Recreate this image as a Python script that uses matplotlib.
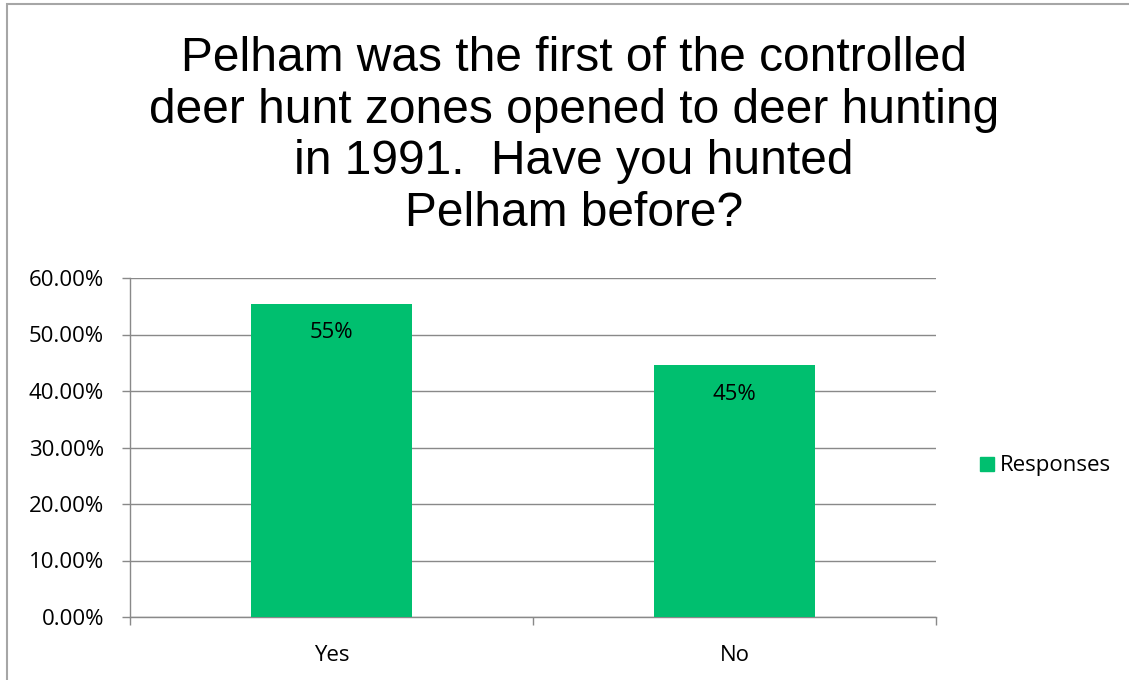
import matplotlib
matplotlib.use("Agg")
import matplotlib.pyplot as plt
from matplotlib.patches import Rectangle
from matplotlib.lines import Line2D

categories = ["Yes", "No"]
values = [55.45, 44.55]
value_labels = ["55%", "45%"]
y_ticks = [0, 10, 20, 30, 40, 50, 60]
y_tick_labels = ["0.00%", "10.00%", "20.00%", "30.00%", "40.00%", "50.00%", "60.00%"]
series_name = "Responses"
title = ("Pelham was the first of the controlled\n"
         "deer hunt zones opened to deer hunting\n"
         "in 1991.  Have you hunted\n"
         "Pelham before?")

W, H, DPI = 1129, 680, 100
fig = plt.figure(figsize=(W / DPI, H / DPI), dpi=DPI)
fig.patch.set_facecolor("white")

bar_color = "#00BF6F"
grid_color = "#898989"
label_font = ["Open Sans", "DejaVu Sans"]
fs = 16

ax = fig.add_axes([130 / W, 1 - 617 / H, (936 - 130) / W, (617 - 278) / H])
x = list(range(len(categories)))
ax.bar(x, values, width=0.4, color=bar_color, zorder=3)
ax.set_xlim(-0.5, len(categories) - 0.5)
ax.set_ylim(0, 60)

ax.set_yticks(y_ticks)
ax.set_yticklabels(y_tick_labels, fontsize=fs, family=label_font)
ax.set_xticks(x)
ax.set_xticklabels(categories, fontsize=fs, family=label_font)
ax.set_xticks([-0.5 + i for i in range(len(categories) + 1)], minor=True)

ax.tick_params(axis="y", which="major", length=5.8, width=1, color=grid_color, pad=13)
ax.tick_params(axis="x", which="major", length=0, pad=20)
ax.tick_params(axis="x", which="minor", length=5.8, width=1, color=grid_color)

ax.grid(axis="y", color=grid_color, linewidth=1, zorder=0)
for s in ["top", "right"]:
    ax.spines[s].set_visible(False)
for s in ["left", "bottom"]:
    ax.spines[s].set_color(grid_color)
    ax.spines[s].set_linewidth(1)

for xi, v, lab in zip(x, values, value_labels):
    ax.annotate(lab, (xi, v), xytext=(0, -21), textcoords="offset points",
                ha="center", va="center", fontsize=fs, family=label_font, color="black", zorder=4)

fig.text(574 / W, 1 - 136 / H, title, ha="center", va="center", fontsize=34.5,
         family=["Liberation Sans", "DejaVu Sans"], linespacing=1.19)

handle = Line2D([], [], marker="s", linestyle="none", markersize=10,
                markerfacecolor=bar_color, markeredgecolor=bar_color)
fig.legend([handle], [series_name], loc="center left", bbox_to_anchor=(967 / W, 1 - 466 / H),
           frameon=False, prop={"family": label_font, "size": fs}, handletextpad=0.1,
           handlelength=1.0, borderaxespad=0)

# chart border
fig.add_artist(Rectangle((7 / W, -0.01), 1.02, 1 - 4 / H + 0.01, transform=fig.transFigure,
                         fill=False, edgecolor="#A6A6A6", linewidth=1.5))

fig.savefig("out.png", dpi=DPI)
